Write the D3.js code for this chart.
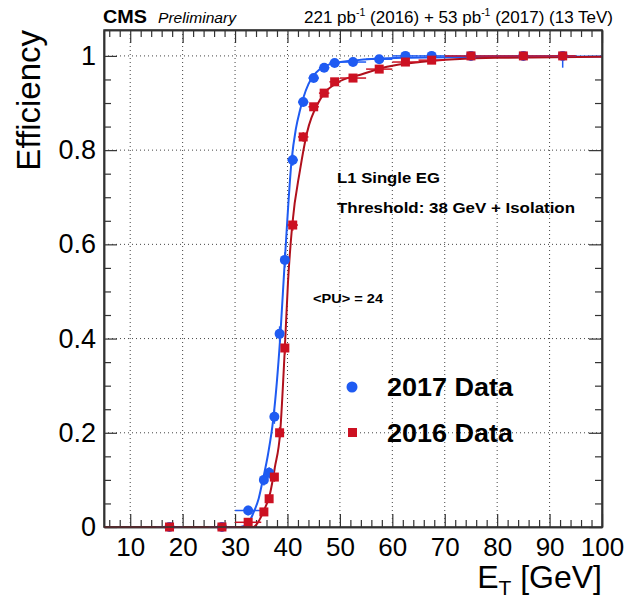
<!DOCTYPE html>
<meta charset="utf-8">

<!-- Load d3.js -->
<script src="https://d3js.org/d3.v7.min.js"></script>

<style>
  body { margin: 0; background: #fff; }
  text { font-family: "Liberation Sans", Arial, Helvetica, sans-serif; }
</style>

<div id="my_dataviz"></div>

<script>
  // bins (GeV) shared by both years
  var binCenter = [17.5, 27.5, 32.5, 35.5, 36.5, 37.5, 38.5, 39.5, 41, 43, 45, 47, 49, 52.5, 57.5, 62.5, 67.5, 75, 85, 92.5];
  var binHalf   = [2.5, 2.5, 2.5, 0.5, 0.5, 0.5, 0.5, 0.5, 1, 1, 1, 1, 1, 2.5, 2.5, 2.5, 2.5, 5, 5, 2.5];

  // efficiencies
  var eff2017 = [0, 0, 0.035, 0.10, 0.115, 0.234, 0.41, 0.567, 0.779, 0.902, 0.953, 0.975, 0.985, 0.987, 0.993, 1.0, 1.0, 1.0, 1.0, 1.0];
  var err2017 = [0, 0, 0.01, 0.012, 0.012, 0.015, 0.016, 0.016, 0.012, 0.009, 0.006, 0.005, 0.005, 0.004, 0.004, 0.003, 0.004, 0.004, 0.006, 0.025];
  var eff2016 = [0, 0, 0.01, 0.032, 0.06, 0.106, 0.2, 0.38, 0.641, 0.828, 0.892, 0.921, 0.945, 0.953, 0.972, 0.987, 0.991, 1.0, 1.0, 1.0];
  var err2016 = [0, 0, 0.004, 0.006, 0.008, 0.01, 0.012, 0.014, 0.012, 0.01, 0.008, 0.007, 0.006, 0.005, 0.004, 0.003, 0.003, 0.003, 0.004, 0.005];

  // fitted turn-on curves
  var fitX2017 = [5, 31, 32.5, 33.5, 34.5, 35.3, 36.3, 37.3, 38.6, 39.5, 40.8, 41.6, 42.4, 43, 44, 45, 46.2, 48, 52.5, 62, 80, 100];
  var fitY2017 = [0, 0, 0.008, 0.03, 0.06, 0.1, 0.155, 0.23, 0.4, 0.567, 0.78, 0.845, 0.885, 0.91, 0.94, 0.958, 0.972, 0.982, 0.99, 0.996, 0.998, 0.999];
  var fitX2016 = [5, 33.5, 34.5, 35.3, 36.7, 37.6, 38.6, 39.5, 40.1, 40.9, 42.4, 43.7, 46.2, 49.5, 53.9, 59, 65.3, 80, 100];
  var fitY2016 = [0, 0, 0.012, 0.03, 0.072, 0.127, 0.2, 0.38, 0.52, 0.64, 0.758, 0.836, 0.907, 0.943, 0.96, 0.977, 0.987, 0.996, 0.998];

  var xMajor = [10, 20, 30, 40, 50, 60, 70, 80, 90, 100];
  var yMajor = [0, 0.2, 0.4, 0.6, 0.8, 1];
  var yLabels = ["0", "0.2", "0.4", "0.6", "0.8", "1"];

  var blue = "#1f5bf2", red = "#cc1122";

  var W = 629, H = 598;
  var pL = 104, pR = 602, pT = 30, pB = 527;

  var svg = d3.select("#my_dataviz")
    .append("svg")
      .attr("width", W)
      .attr("height", H);

  var x = d3.scaleLinear().domain([5, 100]).range([pL, pR]);
  var y = d3.scaleLinear().domain([0, 1.055]).range([pB, pT]);

  // dotted grid
  svg.append("g").selectAll("line")
    .data(xMajor.filter(function(d) { return d < 100; }))
    .enter().append("line")
      .attr("x1", d => x(d)).attr("x2", d => x(d))
      .attr("y1", pT).attr("y2", pB)
      .attr("stroke", "#444").attr("stroke-width", 1).attr("stroke-dasharray", "1,3");
  svg.append("g").selectAll("line")
    .data(yMajor.filter(function(d) { return d > 0; }))
    .enter().append("line")
      .attr("x1", pL).attr("x2", pR)
      .attr("y1", d => y(d)).attr("y2", d => y(d))
      .attr("stroke", "#444").attr("stroke-width", 1).attr("stroke-dasharray", "1,3");

  // minor tick positions
  var xMinor = d3.range(6, 100, 2).filter(function(d) { return d % 10 != 0; });
  var yMinor = d3.range(0.05, 1.05, 0.05).filter(function(d) { return Math.abs(d * 5 - Math.round(d * 5)) > 0.01; });

  function axisStyle(g) {
    g.select(".domain").attr("stroke", "#333").attr("stroke-width", 1.5);
    g.selectAll(".tick line").attr("stroke", "#333").attr("stroke-width", 1.2);
  }

  // bottom axis
  svg.append("g")
    .attr("transform", "translate(0," + pB + ")")
    .call(d3.axisBottom(x).tickValues(xMinor).tickSize(-7).tickFormat("").tickSizeOuter(0))
    .call(axisStyle);
  svg.append("g")
    .attr("transform", "translate(0," + pB + ")")
    .call(d3.axisBottom(x).tickValues(xMajor).tickSize(-13).tickPadding(11).tickSizeOuter(0).tickFormat(d3.format("d")))
    .call(axisStyle)
    .call(g => g.selectAll("text").attr("font-size", 26).attr("fill", "#000"));

  // top axis
  svg.append("g")
    .attr("transform", "translate(0," + pT + ")")
    .call(d3.axisTop(x).tickValues(xMinor).tickSize(-7).tickFormat("").tickSizeOuter(0))
    .call(axisStyle);
  svg.append("g")
    .attr("transform", "translate(0," + pT + ")")
    .call(d3.axisTop(x).tickValues(xMajor).tickSize(-13).tickFormat("").tickSizeOuter(0))
    .call(axisStyle);

  // left axis
  svg.append("g")
    .attr("transform", "translate(" + pL + ",0)")
    .call(d3.axisLeft(y).tickValues(yMinor).tickSize(-7).tickFormat("").tickSizeOuter(0))
    .call(axisStyle);
  svg.append("g")
    .attr("transform", "translate(" + pL + ",0)")
    .call(d3.axisLeft(y).tickValues(yMajor).tickSize(-13).tickPadding(8).tickSizeOuter(0)
      .tickFormat(function(d, i) { return yLabels[i]; }))
    .call(axisStyle)
    .call(g => g.selectAll("text").attr("font-size", 27).attr("fill", "#000"));

  // right axis
  svg.append("g")
    .attr("transform", "translate(" + pR + ",0)")
    .call(d3.axisRight(y).tickValues(yMinor).tickSize(-7).tickFormat("").tickSizeOuter(0))
    .call(axisStyle);
  svg.append("g")
    .attr("transform", "translate(" + pR + ",0)")
    .call(d3.axisRight(y).tickValues(yMajor).tickSize(-13).tickFormat("").tickSizeOuter(0))
    .call(axisStyle);

  // fit curves
  var line = d3.line()
    .x(d => x(d[0]))
    .y(d => y(d[1]))
    .curve(d3.curveMonotoneX);

  svg.append("path")
    .datum(fitX2017.map(function(v, i) { return [v, fitY2017[i]]; }))
    .attr("d", line)
    .attr("fill", "none").attr("stroke", blue).attr("stroke-width", 2);
  svg.append("path")
    .datum(fitX2016.map(function(v, i) { return [v, fitY2016[i]]; }))
    .attr("d", line)
    .attr("fill", "none").attr("stroke", "#b0101c").attr("stroke-width", 2);

  // error bars + markers
  function drawSeries(eff, err, color, shape) {
    var pts = binCenter.map(function(c, i) { return {x: c, h: binHalf[i], v: eff[i], e: err[i]}; });
    var g = svg.append("g");
    g.selectAll(".ex").data(pts).enter().append("line")
      .attr("x1", d => x(d.x - d.h)).attr("x2", d => x(d.x + d.h))
      .attr("y1", d => y(d.v)).attr("y2", d => y(d.v))
      .attr("stroke", color).attr("stroke-width", 1.5);
    g.selectAll(".ey").data(pts).enter().append("line")
      .attr("x1", d => x(d.x)).attr("x2", d => x(d.x))
      .attr("y1", d => y(Math.max(0, d.v - d.e))).attr("y2", d => y(Math.min(1, d.v + d.e)))
      .attr("stroke", color).attr("stroke-width", 1.5);
    if (shape == "circle") {
      g.selectAll("circle").data(pts).enter().append("circle")
        .attr("cx", d => x(d.x)).attr("cy", d => y(d.v)).attr("r", 5)
        .attr("fill", color);
    } else {
      g.selectAll("rect").data(pts).enter().append("rect")
        .attr("x", d => x(d.x) - 4.5).attr("y", d => y(d.v) - 4.5)
        .attr("width", 9).attr("height", 9)
        .attr("fill", color);
    }
  }
  drawSeries(eff2017, err2017, blue, "circle");
  drawSeries(eff2016, err2016, red, "square");

  // frame
  svg.append("rect")
    .attr("x", pL).attr("y", pT)
    .attr("width", pR - pL).attr("height", pB - pT)
    .attr("fill", "none").attr("stroke", "#333").attr("stroke-width", 1.5);

  // axis titles
  svg.append("text")
    .attr("transform", "translate(40," + pT + ") rotate(-90)")
    .attr("text-anchor", "end")
    .attr("font-size", 33)
    .text("Efficiency");

  var xt = svg.append("text")
    .attr("x", pR).attr("y", 588)
    .attr("text-anchor", "end")
    .attr("font-size", 32);
  xt.append("tspan").text("E");
  xt.append("tspan").attr("font-size", 21).attr("dy", 7).text("T");
  xt.append("tspan").attr("dy", -7).text(" [GeV]");

  // header
  svg.append("text")
    .attr("x", 103).attr("y", 23)
    .attr("font-size", 18).attr("font-weight", "bold")
    .attr("textLength", 44).attr("lengthAdjust", "spacingAndGlyphs")
    .text("CMS");
  svg.append("text")
    .attr("x", 158).attr("y", 23)
    .attr("font-size", 15).attr("font-style", "italic")
    .attr("textLength", 78).attr("lengthAdjust", "spacingAndGlyphs")
    .text("Preliminary");

  var lumi = svg.append("text")
    .attr("x", 613).attr("y", 23)
    .attr("text-anchor", "end")
    .attr("font-size", 17);
  lumi.append("tspan").text("221 pb");
  lumi.append("tspan").attr("font-size", 10.5).attr("dy", -7).text("-1");
  lumi.append("tspan").attr("dy", 7).text(" (2016) + 53 pb");
  lumi.append("tspan").attr("font-size", 10.5).attr("dy", -7).text("-1");
  lumi.append("tspan").attr("dy", 7).text(" (2017) (13 TeV)");

  // annotations
  svg.append("text")
    .attr("x", 337).attr("y", 183)
    .attr("font-size", 15.5).attr("font-weight", "bold")
    .attr("textLength", 103).attr("lengthAdjust", "spacingAndGlyphs")
    .text("L1 Single EG");
  svg.append("text")
    .attr("x", 337).attr("y", 213)
    .attr("font-size", 15.5).attr("font-weight", "bold")
    .attr("textLength", 238).attr("lengthAdjust", "spacingAndGlyphs")
    .text("Threshold: 38 GeV + Isolation");
  svg.append("text")
    .attr("x", 313).attr("y", 303)
    .attr("font-size", 13).attr("font-weight", "bold")
    .attr("textLength", 70).attr("lengthAdjust", "spacingAndGlyphs")
    .text("<PU> = 24");

  // legend
  svg.append("circle")
    .attr("cx", 352).attr("cy", 387).attr("r", 5.5)
    .attr("fill", blue);
  svg.append("text")
    .attr("x", 387).attr("y", 396)
    .attr("font-size", 26).attr("font-weight", "bold")
    .attr("textLength", 126).attr("lengthAdjust", "spacingAndGlyphs")
    .text("2017 Data");
  svg.append("rect")
    .attr("x", 348).attr("y", 428).attr("width", 9).attr("height", 9)
    .attr("fill", red);
  svg.append("text")
    .attr("x", 387).attr("y", 442)
    .attr("font-size", 26).attr("font-weight", "bold")
    .attr("textLength", 126).attr("lengthAdjust", "spacingAndGlyphs")
    .text("2016 Data");
</script>
